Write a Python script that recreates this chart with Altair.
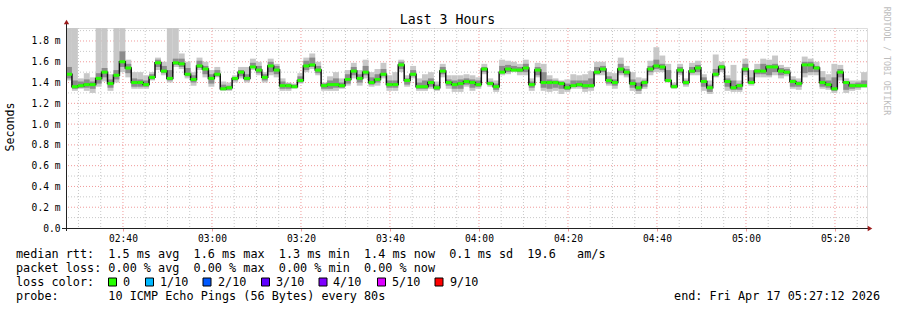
import altair as alt
import pandas as pd

# ---- time frame (minutes after midnight) ----
START_MIN = 147.2          # 02:27:12
STEP_MIN = 80 / 60         # one probe every 80 s
END_MIN = START_MIN + 180  # 05:27:12

# ---- data (ms) ----
median = [1.48, 1.36, 1.37, 1.38, 1.38, 1.44, 1.50, 1.39, 1.47, 1.60,
          1.54, 1.40, 1.40, 1.38, 1.45, 1.59, 1.51, 1.44, 1.59, 1.58,
          1.48, 1.43, 1.56, 1.53, 1.44, 1.48, 1.34, 1.35, 1.44, 1.50,
          1.44, 1.55, 1.52, 1.45, 1.56, 1.52, 1.37, 1.37, 1.36, 1.42,
          1.56, 1.57, 1.52, 1.37, 1.38, 1.38, 1.37, 1.43, 1.51, 1.44,
          1.50, 1.40, 1.43, 1.48, 1.38, 1.38, 1.57, 1.42, 1.48, 1.36,
          1.36, 1.40, 1.35, 1.51, 1.40, 1.38, 1.39, 1.41, 1.40, 1.38,
          1.53, 1.39, 1.36, 1.50, 1.53, 1.52, 1.52, 1.54, 1.38, 1.52,
          1.40, 1.40, 1.40, 1.39, 1.35, 1.37, 1.38, 1.37, 1.37, 1.50,
          1.53, 1.42, 1.40, 1.53, 1.50, 1.39, 1.35, 1.40, 1.53, 1.56,
          1.55, 1.42, 1.36, 1.52, 1.40, 1.51, 1.54, 1.41, 1.35, 1.48,
          1.55, 1.41, 1.35, 1.37, 1.53, 1.40, 1.51, 1.51, 1.55, 1.55,
          1.51, 1.50, 1.41, 1.39, 1.57, 1.57, 1.54, 1.40, 1.38, 1.34,
          1.50, 1.40, 1.37, 1.37, 1.37]

rtt_max = [1.925, 1.925, 1.44, 1.49, 1.45, 1.925, 1.925, 1.48, 1.925, 1.925,
           1.62, 1.50, 1.50, 1.47, 1.50, 1.64, 1.60, 1.925, 1.925, 1.68,
           1.60, 1.50, 1.64, 1.60, 1.52, 1.55, 1.41, 1.40, 1.47, 1.55,
           1.55, 1.63, 1.60, 1.50, 1.63, 1.58, 1.44, 1.40, 1.39, 1.49,
           1.64, 1.68, 1.60, 1.40, 1.46, 1.50, 1.44, 1.52, 1.59, 1.52,
           1.62, 1.50, 1.53, 1.59, 1.47, 1.50, 1.62, 1.47, 1.56, 1.44,
           1.48, 1.50, 1.41, 1.58, 1.47, 1.47, 1.47, 1.48, 1.47, 1.45,
           1.58, 1.44, 1.42, 1.62, 1.61, 1.60, 1.58, 1.62, 1.44, 1.59,
           1.58, 1.47, 1.44, 1.42, 1.43, 1.48, 1.47, 1.48, 1.51, 1.60,
           1.60, 1.50, 1.49, 1.64, 1.56, 1.50, 1.45, 1.44, 1.61, 1.74,
           1.66, 1.58, 1.40, 1.58, 1.44, 1.59, 1.61, 1.48, 1.42, 1.67,
           1.60, 1.47, 1.57, 1.42, 1.63, 1.52, 1.58, 1.63, 1.62, 1.66,
           1.57, 1.55, 1.46, 1.44, 1.65, 1.63, 1.60, 1.51, 1.48, 1.58,
           1.57, 1.44, 1.42, 1.42, 1.50]

rtt_min = [1.42, 1.32, 1.34, 1.32, 1.30, 1.36, 1.41, 1.32, 1.40, 1.50,
           1.45, 1.34, 1.34, 1.34, 1.42, 1.52, 1.47, 1.40, 1.55, 1.53,
           1.44, 1.37, 1.52, 1.45, 1.36, 1.45, 1.32, 1.32, 1.40, 1.44,
           1.40, 1.52, 1.47, 1.40, 1.47, 1.45, 1.32, 1.32, 1.34, 1.39,
           1.50, 1.53, 1.47, 1.32, 1.32, 1.32, 1.34, 1.37, 1.44, 1.37,
           1.44, 1.36, 1.37, 1.44, 1.32, 1.32, 1.50, 1.36, 1.44, 1.32,
           1.32, 1.34, 1.32, 1.45, 1.34, 1.31, 1.31, 1.36, 1.32, 1.34,
           1.48, 1.36, 1.31, 1.47, 1.48, 1.50, 1.47, 1.47, 1.32, 1.45,
           1.32, 1.31, 1.32, 1.29, 1.31, 1.34, 1.34, 1.31, 1.32, 1.47,
           1.47, 1.37, 1.34, 1.47, 1.45, 1.32, 1.29, 1.34, 1.47, 1.50,
           1.50, 1.40, 1.34, 1.47, 1.36, 1.47, 1.47, 1.32, 1.29, 1.45,
           1.50, 1.32, 1.31, 1.31, 1.47, 1.37, 1.45, 1.45, 1.45, 1.47,
           1.44, 1.46, 1.34, 1.33, 1.45, 1.47, 1.47, 1.34, 1.33, 1.30,
           1.42, 1.30, 1.32, 1.33, 1.35]

q_lo = [1.44, 1.34, 1.35, 1.35, 1.34, 1.39, 1.45, 1.35, 1.43, 1.55,
        1.49, 1.36, 1.36, 1.36, 1.43, 1.55, 1.49, 1.42, 1.57, 1.55,
        1.46, 1.40, 1.54, 1.48, 1.39, 1.46, 1.33, 1.33, 1.42, 1.46,
        1.42, 1.54, 1.49, 1.42, 1.50, 1.48, 1.34, 1.34, 1.35, 1.40,
        1.52, 1.55, 1.49, 1.34, 1.34, 1.35, 1.35, 1.39, 1.47, 1.40,
        1.47, 1.38, 1.40, 1.46, 1.35, 1.35, 1.53, 1.38, 1.46, 1.34,
        1.34, 1.36, 1.33, 1.48, 1.37, 1.34, 1.34, 1.38, 1.35, 1.36,
        1.50, 1.38, 1.33, 1.49, 1.50, 1.51, 1.50, 1.50, 1.35, 1.47,
        1.35, 1.34, 1.35, 1.34, 1.33, 1.36, 1.36, 1.34, 1.35, 1.48,
        1.50, 1.39, 1.37, 1.49, 1.47, 1.35, 1.32, 1.36, 1.50, 1.53,
        1.52, 1.41, 1.35, 1.49, 1.38, 1.49, 1.50, 1.36, 1.31, 1.46,
        1.52, 1.36, 1.33, 1.33, 1.50, 1.39, 1.48, 1.48, 1.47, 1.50,
        1.47, 1.48, 1.36, 1.36, 1.49, 1.50, 1.50, 1.36, 1.35, 1.32,
        1.45, 1.33, 1.34, 1.35, 1.36]

q_hi = [1.55, 1.42, 1.41, 1.43, 1.41, 1.49, 1.54, 1.43, 1.52, 1.70,
        1.58, 1.44, 1.43, 1.42, 1.48, 1.62, 1.56, 1.52, 1.63, 1.63,
        1.54, 1.47, 1.61, 1.56, 1.48, 1.52, 1.38, 1.37, 1.45, 1.52,
        1.48, 1.59, 1.56, 1.48, 1.60, 1.56, 1.41, 1.39, 1.38, 1.46,
        1.61, 1.64, 1.56, 1.39, 1.42, 1.44, 1.40, 1.48, 1.55, 1.48,
        1.56, 1.45, 1.48, 1.53, 1.42, 1.42, 1.60, 1.44, 1.52, 1.40,
        1.42, 1.44, 1.38, 1.55, 1.43, 1.42, 1.43, 1.44, 1.43, 1.42,
        1.55, 1.41, 1.39, 1.56, 1.57, 1.56, 1.55, 1.58, 1.41, 1.55,
        1.50, 1.43, 1.42, 1.41, 1.39, 1.42, 1.42, 1.42, 1.44, 1.55,
        1.56, 1.46, 1.43, 1.58, 1.53, 1.43, 1.40, 1.42, 1.56, 1.62,
        1.58, 1.52, 1.38, 1.55, 1.42, 1.55, 1.57, 1.45, 1.38, 1.53,
        1.57, 1.44, 1.42, 1.39, 1.58, 1.45, 1.53, 1.58, 1.57, 1.58,
        1.54, 1.53, 1.43, 1.41, 1.60, 1.60, 1.56, 1.45, 1.42, 1.45,
        1.53, 1.41, 1.39, 1.40, 1.42]

x_major = [160, 180, 200, 220, 240, 260, 280, 300, 320]
x_minor = [m for m in range(150, 330, 5) if m % 20 != 0 and m < END_MIN]
y_major = [0.0, 0.2, 0.4, 0.6, 0.8, 1.0, 1.2, 1.4, 1.6, 1.8]
y_minor = [0.1, 0.3, 0.5, 0.7, 0.9, 1.1, 1.3, 1.5, 1.7, 1.9]

loss_labels = ["0", "1/10", "2/10", "3/10", "4/10", "5/10", "9/10"]
loss_colors = ["#26ff00", "#00b8ff", "#0059ff", "#5e00ff", "#7e00ff", "#dd00ff", "#ff0000"]

title_text = "Last 3 Hours"
y_title = "Seconds"
stat_lines = [
    "median rtt:  1.5 ms avg  1.6 ms max  1.3 ms min  1.4 ms now  0.1 ms sd  19.6   am/s",
    "packet loss: 0.00 % avg  0.00 % max  0.00 % min  0.00 % now",
    "loss color:",
    "probe:       10 ICMP Echo Pings (56 Bytes) every 80s",
]
end_text = "end: Fri Apr 17 05:27:12 2026"
credit_text = "RRDTOOL / TOBI OETIKER"

# ---- layout (pixels relative to plot origin) ----
W, H = 801, 200
FONT = "DejaVu Sans Mono"
legend_sq_x = [46.5, 83.5, 141, 199.5, 257, 315.5, 373]
legend_lab_x = [57, 94, 152, 210, 267, 326, 384]

n = len(median)
t0 = [START_MIN + i * STEP_MIN for i in range(n)]
t1 = [START_MIN + (i + 1) * STEP_MIN for i in range(n)]
df = pd.DataFrame({"t0": t0, "t1": t1, "med": median, "lo": rtt_min,
                   "hi": rtt_max, "qlo": q_lo, "qhi": q_hi})
line_df = pd.DataFrame({"t": t0 + [END_MIN], "med": median + [median[-1]]})

xs = alt.Scale(domain=[START_MIN, END_MIN], nice=False, zero=False)
ys = alt.Scale(domain=[0, 1.925], nice=False)

x_label_expr = ("(floor(datum.value/60) < 10 ? '0' : '') + floor(datum.value/60) + ':' + "
                "(datum.value % 60 < 10 ? '0' : '') + (datum.value % 60)")
y_label_expr = "datum.value == 0 ? '0.0' : format(datum.value, '.1f') + ' m'"

X_AXIS = alt.Axis(values=x_major, labelExpr=x_label_expr, title=None, grid=False,
                  ticks=True, tickSize=3, tickColor="#f09a9a", domain=False,
                  labelFont=FONT, labelFontSize=9.6, labelColor="black",
                  labelPadding=2)
Y_AXIS = alt.Axis(values=y_major, labelExpr=y_label_expr, title=None, grid=False,
                  ticks=False, tickSize=0, domain=False, labelFont=FONT,
                  labelFontSize=9.6, labelColor="black", labelPadding=6)


def X(field):
    return alt.X(field, scale=xs, axis=X_AXIS)


def Y(field):
    return alt.Y(field, scale=ys, axis=Y_AXIS)


layers = []

# grid
layers.append(alt.Chart(pd.DataFrame({"v": x_minor})).mark_rule(
    color="#c8c8c8", strokeDash=[1, 2], strokeWidth=1).encode(x=X("v:Q")))
layers.append(alt.Chart(pd.DataFrame({"v": y_minor})).mark_rule(
    color="#c8c8c8", strokeDash=[1, 2], strokeWidth=1).encode(y=Y("v:Q")))
layers.append(alt.Chart(pd.DataFrame({"v": x_major})).mark_rule(
    color="#f09a9a", strokeDash=[1, 2], strokeWidth=1).encode(x=X("v:Q")))
layers.append(alt.Chart(pd.DataFrame({"v": y_major[1:]})).mark_rule(
    color="#f09a9a", strokeDash=[1, 2], strokeWidth=1).encode(y=Y("v:Q")))

# smoke
layers.append(alt.Chart(df).mark_rect(color="#c8c8c8", clip=True).encode(
    x=X("t0:Q"), x2="t1:Q", y=Y("lo:Q"), y2="hi:Q"))
layers.append(alt.Chart(df).mark_rect(color="#8c8c8c", clip=True).encode(
    x=X("t0:Q"), x2="t1:Q", y=Y("qlo:Q"), y2="qhi:Q"))

# median line
layers.append(alt.Chart(line_df).mark_line(
    color="#111111", strokeWidth=1.5, interpolate="step-after").encode(
    x=X("t:Q"), y=Y("med:Q")))

# loss-colour median markers (0 loss everywhere)
layers.append(alt.Chart(df).mark_rule(
    color=loss_colors[0], strokeWidth=3, strokeCap="butt").encode(
    x=X("t0:Q"), x2="t1:Q", y=Y("med:Q")))

one = pd.DataFrame({"a": [1]})

# axis lines and arrows
layers.append(alt.Chart(one).mark_rule(color="#222222", strokeWidth=1).encode(
    x=alt.value(0.5), y=alt.value(-5), y2=alt.value(203)))
layers.append(alt.Chart(one).mark_rule(color="#222222", strokeWidth=1).encode(
    x=alt.value(-4), x2=alt.value(802), y=alt.value(200.5)))
layers.append(alt.Chart(one).mark_point(
    shape="triangle-up", filled=True, size=28, color="#9c1c1c", opacity=1).encode(
    x=alt.value(0.5), y=alt.value(-6)))
layers.append(alt.Chart(one).mark_point(
    shape="triangle-right", filled=True, size=28, color="#9c1c1c", opacity=1).encode(
    x=alt.value(804), y=alt.value(200.5)))


def text_layer(txt, x, y, size=11.8, align="left", angle=0, color="black"):
    return alt.Chart(one).mark_text(
        text=txt.replace(" ", "\u00a0"), font=FONT, fontSize=size, align=align,
        baseline="middle", angle=angle, color=color).encode(
        x=alt.value(x), y=alt.value(y))


layers.append(text_layer(title_text, 381.5, -8, size=13.2, align="center"))
layers.append(text_layer(y_title, -55, 99, size=11.6, align="center", angle=270))
for i, line in enumerate(stat_lines):
    layers.append(text_layer(line, -50, 226 + 14 * i))
layers.append(text_layer(end_text, 814, 268, align="right"))
layers.append(text_layer(credit_text, 820, 33, size=8.2, align="center",
                         angle=90, color="#bdbdbd"))

for lab, col, sx, lx in zip(loss_labels, loss_colors, legend_sq_x, legend_lab_x):
    layers.append(alt.Chart(one).mark_square(
        size=64, filled=True, color=col, stroke="black", strokeWidth=1, opacity=1).encode(
        x=alt.value(sx), y=alt.value(254)))
    layers.append(text_layer(lab, lx, 254))

chart = alt.layer(*layers).properties(
    width=W, height=H,
    autosize=alt.AutoSizeParams(type="none"),
    padding={"left": 66, "top": 28, "right": 30, "bottom": 82},
).configure_view(strokeWidth=0).configure(background="white")

chart.save("out.html", embed_options={"renderer": "svg", "actions": False})
